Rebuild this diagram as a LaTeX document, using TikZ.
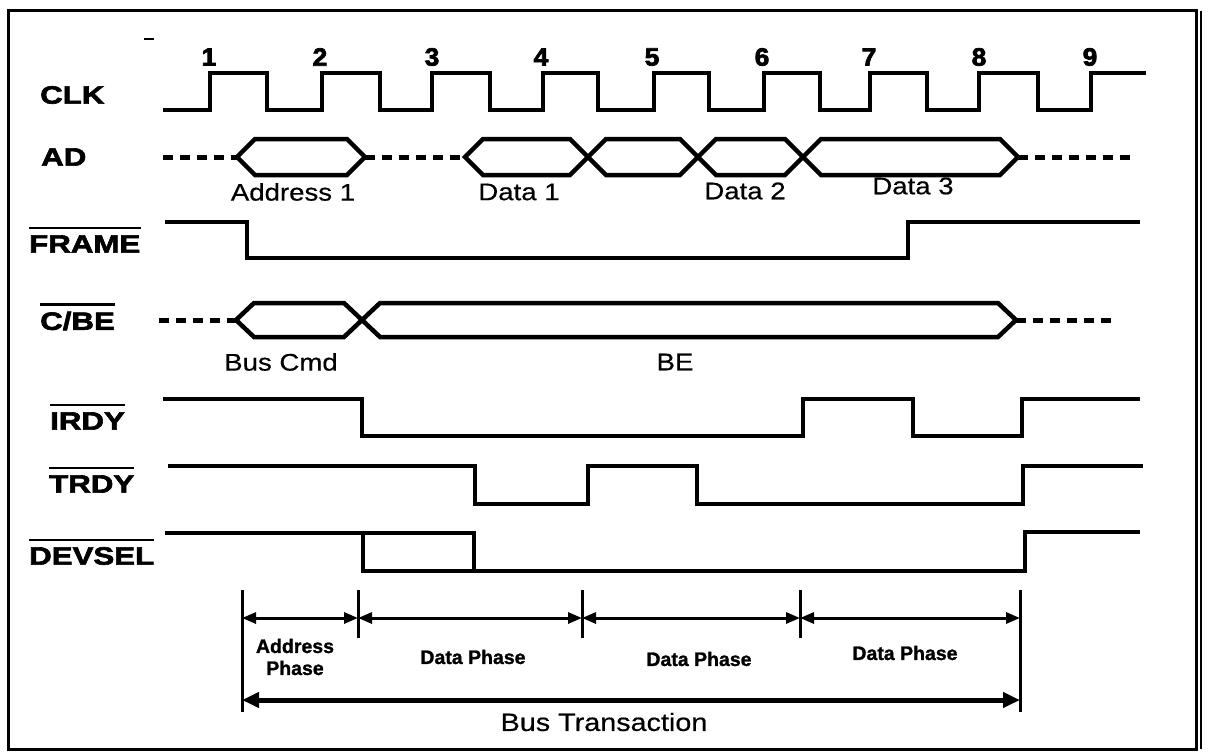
\documentclass[tikz,border=0pt]{standalone}
\usepackage{fontspec}
\setmainfont{Liberation Sans}
\newfontfamily\sigfont[FakeStretch=1.25,FakeBold=2.5]{Liberation Sans}
\newfontfamily\numfont[FakeStretch=1.05,FakeBold=3]{Liberation Sans}
\newfontfamily\txtfont[FakeStretch=1.15,FakeBold=0.5]{Liberation Sans}
\newfontfamily\phfont[FakeStretch=1.0,FakeBold=1.2]{Liberation Sans}
\usetikzlibrary{arrows.meta}
\begin{document}
\begin{tikzpicture}[x=1pt,y=-1pt,
  wave/.style={line width=4.5pt},
  dashwave/.style={line width=5pt, dash pattern=on 10pt off 7pt},
  lbl/.style={anchor=west, inner sep=0pt, font=\sigfont\bfseries\fontsize{25}{25}\selectfont},
  num/.style={inner sep=0pt, font=\numfont\bfseries\fontsize{25}{25}\selectfont},
  dtxt/.style={inner sep=0pt, font=\txtfont\fontsize{24}{24}\selectfont},
  ptxt/.style={inner sep=0pt, font=\phfont\bfseries\fontsize{19.5}{22}\selectfont, align=center},
  ovl/.style={line width=2.5pt},
  tick/.style={line width=3pt},
  dim/.style={line width=3pt, {Triangle[length=14pt,width=11pt]}-{Triangle[length=14pt,width=11pt]}},
  bus/.style={line width=5pt, {Triangle[length=17pt,width=15pt]}-{Triangle[length=17pt,width=15pt]}}
]
\useasboundingbox (0,0) rectangle (1210,752);
% frame
\draw[line width=3pt] (8,11) rectangle (1196,749);
\draw[line width=2.5pt] (1201,11) -- (1201,749);
\draw[line width=2pt] (144,39) -- (154,39);

% signal labels
\node[lbl] (lclk) at (40,95) {CLK};
\node[lbl] (lad) at (41,157) {AD};
\node[lbl] (lfr) at (29,244) {FRAME};
\node[lbl] (lcbe) at (40,321) {C/BE};
\node[lbl] (lirdy) at (50,421) {IRDY};
\node[lbl] (ltrdy) at (49,484) {TRDY};
\node[lbl] (ldev) at (29,556) {DEVSEL};
\foreach \n in {lfr,lcbe,lirdy,ltrdy,ldev}
  \draw[ovl] ([yshift=7pt]\n.north west) -- ([yshift=7pt]\n.north east);

% clock numbers
\foreach \x/\t in {209/1,320/2,432/3,541/4,652/5,762/6,869/7,979/8,1090/9}
  \node[num] (n\t) at (\x,57) {\t};

% CLK
\draw[wave] (163,110) -- (210,110) -- (210,73) -- (267,73) -- (267,110) -- (322,110) -- (322,73) -- (380,73) -- (380,110) -- (432,110) -- (432,73) -- (490,73) -- (490,110) -- (543,110) -- (543,73) -- (598,73) -- (598,110) -- (654,110) -- (654,73) -- (709,73) -- (709,110) -- (764,110) -- (764,73) -- (820,73) -- (820,110) -- (870,110) -- (870,73) -- (927,73) -- (927,110) -- (979,110) -- (979,73) -- (1038,73) -- (1038,110) -- (1091,110) -- (1091,73) -- (1146,73);

% AD
\draw[dashwave] (163,157) -- (237,157);
\draw[dashwave] (365,157) -- (465,157);
\draw[dashwave] (1018,157) -- (1132,157);
\foreach \a/\b in {237/365,465/588,588/698,698/803,803/1018}
  \draw[wave] (\a,157) -- (\a+18,139) -- (\b-18,139) -- (\b,157) -- (\b-18,175) -- (\a+18,175) -- cycle;
\node[dtxt] (tad1) at (293,192) {Address 1};
\node[dtxt] (td1) at (519,192) {Data 1};
\node[dtxt] (td2) at (745,191) {Data 2};
\node[dtxt] (td3) at (913,186) {Data 3};

% FRAME
\draw[wave] (165,222) -- (247,222) -- (247,258) -- (908,258) -- (908,222) -- (1140,222);

% C/BE
\draw[dashwave] (159,320) -- (236,320);
\draw[dashwave] (1016,320) -- (1114,320);
\foreach \a/\b in {236/362,362/1016}
  \draw[wave] (\a,320) -- (\a+18,303) -- (\b-18,303) -- (\b,320) -- (\b-18,337) -- (\a+18,337) -- cycle;
\node[dtxt] (tbc) at (281,362) {Bus Cmd};
\node[dtxt] (tbe) at (675,362) {BE};

% IRDY
\draw[wave] (163,399) -- (362,399) -- (362,436) -- (803,436) -- (803,399) -- (913,399) -- (913,436) -- (1022,436) -- (1022,399) -- (1140,399);
% TRDY
\draw[wave] (168,466) -- (475,466) -- (475,504) -- (588,504) -- (588,466) -- (697,466) -- (697,504) -- (1023,504) -- (1023,466) -- (1143,466);
% DEVSEL
\draw[wave] (165,533) -- (474,533) -- (474,571);
\draw[wave] (363,533) -- (363,571) -- (1025,571) -- (1025,532) -- (1140,532);

% phase ticks
\coordinate (p0) at (242,618);
\coordinate (p1) at (358,618);
\coordinate (p2) at (582,618);
\coordinate (p3) at (800,618);
\coordinate (p4) at (1020,618);
\coordinate (b0) at (242,700);
\coordinate (b1) at (1020,700);
\draw[tick] (242,590) -- (242,712);
\draw[tick] (358,590) -- (358,638);
\draw[tick] (582,590) -- (582,638);
\draw[tick] (800,590) -- (800,638);
\draw[tick] (1020,590) -- (1020,712);
\draw[dim] (p0) -- (p1);
\draw[dim] (p1) -- (p2);
\draw[dim] (p2) -- (p3);
\draw[dim] (p3) -- (p4);
\draw[bus] (b0) -- (b1);

\node[ptxt] (ap) at (295,657) {Address\\Phase};
\node[ptxt] (dp1) at (473,657) {Data Phase};
\node[ptxt] (dp2) at (699,659) {Data Phase};
\node[ptxt] (dp3) at (905,653) {Data Phase};
\node[dtxt, font=\txtfont\fontsize{25}{25}\selectfont] (bt) at (604,722) {Bus Transaction};
\end{tikzpicture}
\end{document}
